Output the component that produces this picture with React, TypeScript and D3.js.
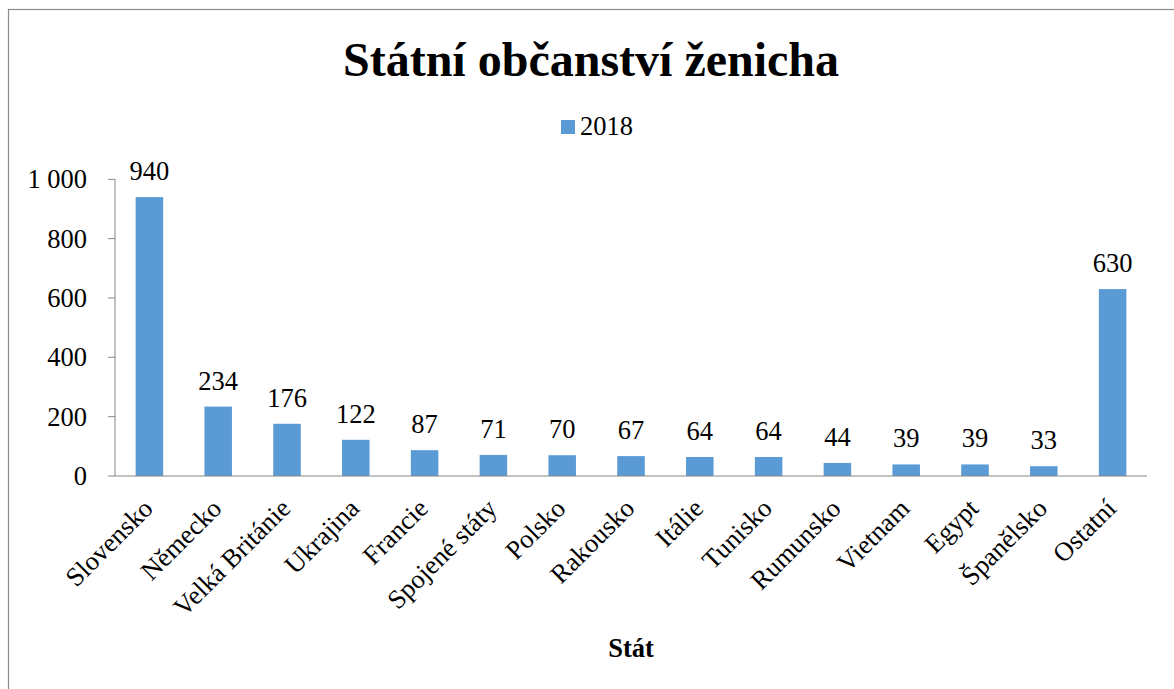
import React from "react";
import * as d3 from "d3";

const categories = ["Slovensko", "Německo", "Velká Británie", "Ukrajina", "Francie", "Spojené státy", "Polsko", "Rakousko", "Itálie", "Tunisko", "Rumunsko", "Vietnam", "Egypt", "Španělsko", "Ostatní"];
const values2018 = [940, 234, 176, 122, 87, 71, 70, 67, 64, 64, 44, 39, 39, 33, 630];
const yTicks = [0, 200, 400, 600, 800, 1000];
const seriesName = "2018";
const title = "Státní občanství ženicha";
const xTitle = "Stát";

const W = 1174, H = 689;
const left = 115, right = 1147, top = 179.3, bottom = 476;
const font = "'Liberation Serif', 'Times New Roman', serif";
const barColor = "#5B9BD5";
const fs = 26.5;

export default function App() {
  const x = d3.scaleBand<string>().domain(categories).range([left, right]).paddingInner(0.6).paddingOuter(0.3);
  const y = d3.scaleLinear().domain([0, 1000]).range([bottom, top]);
  const fmt = (v: number) => d3.format(",")(v).replace(/,/g, " ");
  return (
    <svg width={W} height={H} style={{ position: "absolute", left: 0, top: 0, background: "#fff" }} fontFamily={font}>
      <rect x={8.5} y={9.5} width={W + 20} height={H + 20} fill="#fff" stroke="#8c8c8c" strokeWidth={1.2} />
      <text x={591} y={76} textAnchor="middle" fontSize={48} fontWeight="bold">{title}</text>
      <rect x={561} y={120} width={14} height={14} fill={barColor} />
      <text x={580} y={135} fontSize={fs}>{seriesName}</text>
      {categories.map((c, i) => (
        <g key={c}>
          <rect x={x(c)} y={y(values2018[i])} width={x.bandwidth()} height={bottom - y(values2018[i])} fill={barColor} />
          <text x={(x(c) as number) + x.bandwidth() / 2} y={y(values2018[i]) - 17} textAnchor="middle" fontSize={fs}>{values2018[i]}</text>
          <text transform={`translate(${(x(c) as number) + x.bandwidth() / 2 + 5},${bottom + 34}) rotate(-45)`} textAnchor="end" fontSize={fs}>{c}</text>
        </g>
      ))}
      <line x1={left} x2={left} y1={top} y2={bottom} stroke="#868686" strokeWidth={1} />
      <line x1={left} x2={right} y1={bottom} y2={bottom} stroke="#868686" strokeWidth={1} />
      {yTicks.map(t => (
        <g key={t}>
          <line x1={left - 7} x2={left} y1={y(t)} y2={y(t)} stroke="#868686" />
          <text x={87} y={y(t) + 9} textAnchor="end" fontSize={fs}>{fmt(t)}</text>
        </g>
      ))}
      <text x={631} y={657} textAnchor="middle" fontSize={fs} fontWeight="bold">{xTitle}</text>
    </svg>
  );
}
